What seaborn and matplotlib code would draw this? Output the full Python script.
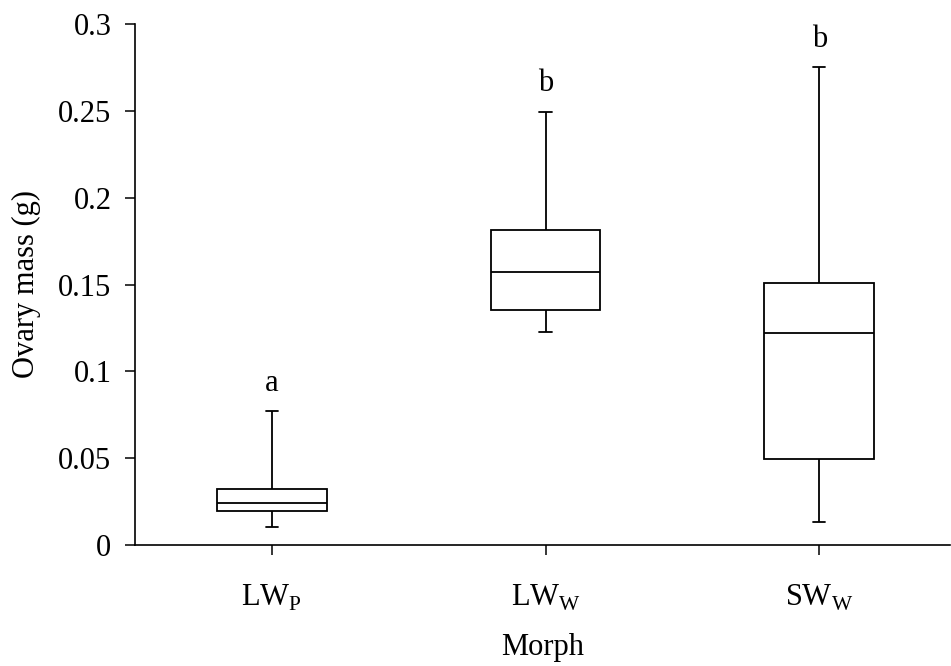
import matplotlib
matplotlib.use("Agg")
import matplotlib.pyplot as plt
import seaborn as sns
import pandas as pd

# Ovary mass summaries per morph (g)
morphs = ["LW$_\\mathregular{P}$", "LW$_\\mathregular{W}$", "SW$_\\mathregular{W}$"]
whisker_low = [0.0105, 0.1225, 0.0131]
quartile_1 = [0.0198, 0.1351, 0.0495]
medians = [0.0242, 0.1574, 0.1221]
quartile_3 = [0.0324, 0.1812, 0.1507]
whisker_high = [0.0771, 0.2495, 0.2750]
letters = ["a", "b", "b"]
y_ticks = [0, 0.05, 0.1, 0.15, 0.2, 0.25, 0.3]
y_tick_labels = ["0", "0.05", "0.1", "0.15", "0.2", "0.25", "0.3"]

# Long-form table: five values per morph reproduce the box statistics exactly
rows = []
for i, m in enumerate(morphs):
    for v in (whisker_low[i], quartile_1[i], medians[i], quartile_3[i], whisker_high[i]):
        rows.append({"Morph": m, "mass": v})
df = pd.DataFrame(rows)

sns.set_theme(style="white")
plt.rcParams["font.family"] = ["Liberation Serif", "DejaVu Serif"]
plt.rcParams["mathtext.fontset"] = "custom"
plt.rcParams["mathtext.rm"] = "Liberation Serif"
plt.rcParams["text.color"] = "black"
plt.rcParams["axes.labelcolor"] = "black"
plt.rcParams["xtick.color"] = "black"
plt.rcParams["ytick.color"] = "black"

FS = 22

fig = plt.figure(figsize=(9.51, 6.66), dpi=100)
ax = fig.add_axes([135 / 951, 1 - 545 / 666, (950 - 135) / 951, (545 - 24) / 666])

sns.boxplot(
    data=df, x="Morph", y="mass", ax=ax, order=morphs,
    whis=(0, 100), width=0.4, color="white", linecolor="black",
    linewidth=1.3, fliersize=0, capwidths=0.045,
)

for i, lab in enumerate(letters):
    ax.text(i, whisker_high[i] + 0.016, lab, ha="center", va="center",
            fontsize=FS, color="black")

ax.set_ylim(0, 0.3)
ax.set_xlim(-0.5, 2.478)
ax.set_yticks(y_ticks)
ax.set_yticklabels(y_tick_labels)
ax.tick_params(axis="both", which="major", labelsize=FS, direction="out",
               length=7, width=1.1, color="black", labelcolor="black",
               left=True, bottom=True)
ax.tick_params(axis="y", pad=10)
ax.tick_params(axis="x", pad=20)
ax.set_xlabel("Morph", fontsize=FS, labelpad=15, color="black")
ax.set_ylabel("Ovary mass (g)", fontsize=FS, labelpad=12, color="black")

for s in ("top", "right"):
    ax.spines[s].set_visible(False)
for s in ("left", "bottom"):
    ax.spines[s].set_color("black")
    ax.spines[s].set_linewidth(1.2)

fig.savefig("out.png", dpi=100, facecolor="white")
